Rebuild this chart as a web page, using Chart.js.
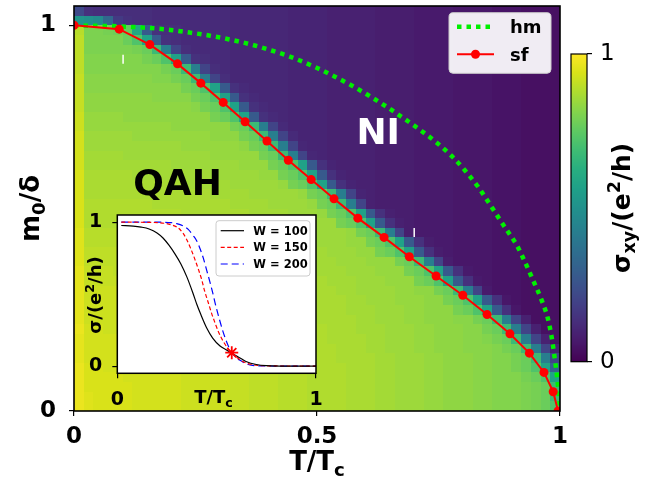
<!DOCTYPE html>
<html><head><meta charset="utf-8">
<style>
html,body{margin:0;padding:0;background:#fff;}
#wrap{position:relative;width:645px;height:479px;overflow:hidden;}
canvas{position:absolute;left:0;top:0;}
</style>
<script src="https://cdn.jsdelivr.net/npm/chart.js@4.4.1/dist/chart.umd.min.js"></script>
</head><body>
<div id="wrap">
<canvas id="main" width="645" height="479"></canvas>
<canvas id="cbar" width="645" height="479"></canvas>
<canvas id="inset" width="645" height="479"></canvas>
</div>
<script>
// ---------------- data ----------------
const tEdges = [0,0.02,0.04,0.06,0.08,0.10,0.12,0.14,0.16,0.18,0.20,0.22,0.24,0.26,0.28,0.30,0.32,0.34,0.36,0.38,0.40,0.42,0.44,0.46,0.48,0.50,0.52,0.54,0.56,0.58,0.60,0.62,0.64,0.66,0.68,0.70,0.72,0.74,0.76,0.78,0.80,0.82,0.84,0.86,0.88,0.90,0.92,0.94,0.96,0.98,1.00];
const m0Edges = [0,0.025,0.05,0.075,0.1,0.125,0.15,0.175,0.2,0.225,0.25,0.275,0.3,0.325,0.35,0.375,0.4,0.425,0.45,0.475,0.5,0.525,0.55,0.575,0.6,0.625,0.65,0.675,0.7,0.725,0.75,0.775,0.8,0.825,0.85,0.875,0.9,0.925,0.95,0.975,1.0,1.025,1.05];
// sigma_xy in percent of e^2/h, row 0 = bottom (m0 0..0.025)
const sigmaRows = [
[97,95,94,94,94,94,93,93,93,93,93,92,92,92,92,92,91,91,90,90,90,89,89,89,88,88,88,88,87,87,87,86,86,85,85,85,84,84,83,83,83,82,82,81,81,81,80,79,77,72],
[97,95,94,94,94,94,93,93,93,93,93,92,92,92,92,92,91,91,90,90,90,89,89,89,88,88,88,88,87,87,87,86,86,85,85,85,84,84,83,83,83,82,82,81,81,81,80,79,77,68],
[97,94,94,94,94,94,93,93,93,93,93,92,92,92,92,92,91,91,90,90,90,89,89,89,88,88,88,88,87,87,87,86,86,85,85,85,84,84,83,83,83,82,82,81,81,81,80,79,77,68],
[97,94,94,94,94,93,93,93,93,93,93,92,92,92,92,92,91,91,90,90,90,89,89,89,88,88,88,88,87,87,87,86,86,85,85,85,84,84,83,83,83,82,82,81,81,81,79,77,72,57],
[97,94,94,93,93,93,93,93,93,93,92,92,92,92,92,91,91,91,90,90,90,89,89,88,88,88,88,88,87,87,87,86,86,85,85,85,84,84,83,83,83,82,82,81,81,79,77,72,57,30],
[96,93,93,93,93,93,93,93,93,92,92,92,92,92,92,91,91,90,90,90,89,89,89,88,88,88,88,87,87,87,87,86,86,85,85,85,84,84,83,83,83,82,82,81,81,79,77,68,42,20],
[96,93,93,93,93,93,93,93,92,92,92,92,92,92,91,91,91,90,90,90,89,89,88,88,88,88,88,87,87,87,86,86,85,85,85,84,84,83,83,83,82,82,82,81,79,77,68,42,20,9],
[96,93,93,93,93,93,92,92,92,92,92,92,92,91,91,91,90,90,90,89,89,89,88,88,88,88,87,87,87,87,86,86,85,85,85,84,84,83,83,83,82,82,81,79,77,68,42,20,9,4],
[97,93,93,92,92,92,92,92,92,92,92,92,91,91,91,90,90,90,89,89,89,88,88,88,88,88,87,87,87,86,86,86,85,85,85,84,84,83,83,83,82,82,79,77,68,42,20,9,4,4],
[96,92,92,92,92,92,92,92,92,92,92,91,91,91,90,90,90,90,89,89,89,88,88,88,88,87,87,87,87,86,86,85,85,85,84,84,83,83,83,82,82,79,77,68,42,20,9,4,4,4],
[96,92,92,92,92,92,92,92,92,92,91,91,91,90,90,90,90,89,89,89,88,88,88,88,88,87,87,87,86,86,86,85,85,85,84,84,83,83,83,79,77,72,57,28,14,6,4,4,4,4],
[96,92,92,92,92,92,92,92,91,91,91,91,90,90,90,90,89,89,89,88,88,88,88,88,87,87,87,87,86,86,85,85,85,84,84,84,83,83,79,77,72,57,28,14,6,5,4,4,4,4],
[96,92,92,92,92,91,91,91,91,91,90,90,90,90,89,89,89,89,88,88,88,88,88,87,87,87,87,86,86,85,85,85,85,84,84,83,83,79,77,68,42,20,7,5,5,5,4,4,4,4],
[96,91,91,91,91,91,91,91,90,90,90,90,90,89,89,89,89,88,88,88,88,88,87,87,87,87,86,86,86,85,85,85,84,84,84,79,77,72,57,28,14,7,6,5,5,5,4,4,4,4],
[96,91,91,91,90,90,90,90,90,90,90,90,89,89,89,89,88,88,88,88,88,87,87,87,87,86,86,86,85,85,85,84,84,84,79,77,72,57,28,14,7,6,6,5,5,5,4,4,4,4],
[95,90,90,90,90,90,90,90,90,89,89,89,89,89,88,88,88,88,88,88,87,87,87,87,86,86,86,85,85,85,84,84,84,79,77,68,42,20,8,6,6,6,6,5,5,5,4,4,4,4],
[95,90,90,90,90,90,89,89,89,89,89,89,88,88,88,88,88,88,88,87,87,87,87,86,86,86,85,85,85,84,84,79,77,72,57,28,14,8,7,6,6,6,6,5,5,5,4,4,4,4],
[95,89,89,89,89,89,89,89,89,89,88,88,88,88,88,88,88,87,87,87,87,87,86,86,86,85,85,85,84,84,79,77,72,57,28,14,8,7,7,6,6,6,6,5,5,5,4,4,4,4],
[95,89,89,89,89,89,88,88,88,88,88,88,88,88,88,87,87,87,87,87,87,86,86,86,85,85,85,85,84,79,77,68,42,20,8,7,7,7,7,6,6,6,6,5,5,5,4,4,4,4],
[94,88,88,88,88,88,88,88,88,88,88,88,88,87,87,87,87,87,87,87,86,86,86,85,85,85,85,79,77,72,57,28,14,9,8,7,7,7,7,6,6,6,6,5,5,5,4,4,4,4],
[94,88,88,88,88,88,88,88,88,88,88,87,87,87,87,87,87,87,86,86,86,86,85,85,85,84,79,77,72,57,28,14,9,8,8,7,7,7,7,6,6,6,6,5,5,5,4,4,4,4],
[94,88,88,88,88,88,88,88,87,87,87,87,87,87,87,87,86,86,86,86,85,85,85,85,84,79,77,68,42,20,9,8,8,8,8,7,7,7,7,6,6,6,6,5,5,5,4,4,4,4],
[94,87,87,87,87,87,87,87,87,87,87,87,87,87,86,86,86,86,85,85,85,85,85,84,79,77,68,42,20,10,9,8,8,8,8,7,7,7,7,6,6,6,6,5,5,5,4,4,4,4],
[94,87,87,87,87,87,87,87,87,87,87,86,86,86,86,86,85,85,85,85,85,84,79,77,72,57,28,14,10,9,9,8,8,8,8,7,7,7,7,6,6,6,6,5,5,5,4,4,4,4],
[94,87,87,87,87,87,86,86,86,86,86,86,86,86,85,85,85,85,85,84,84,79,77,72,57,28,14,10,9,9,9,8,8,8,8,7,7,7,7,6,6,6,6,5,5,5,4,4,4,4],
[93,86,86,86,86,86,86,86,86,86,85,85,85,85,85,85,85,84,84,84,79,77,72,57,28,14,10,9,9,9,9,8,8,8,8,7,7,7,7,6,6,6,6,5,5,5,4,4,4,4],
[93,86,86,86,86,85,85,85,85,85,85,85,85,85,84,84,84,84,84,79,77,68,42,20,11,10,9,9,9,9,9,8,8,8,8,7,7,7,7,6,6,6,6,5,5,5,4,4,4,4],
[93,85,85,85,85,85,85,85,85,85,85,84,84,84,84,84,84,83,79,77,68,42,20,11,10,10,9,9,9,9,9,8,8,8,8,7,7,7,7,6,6,6,6,5,5,5,4,4,4,4],
[93,85,85,85,85,85,84,84,84,84,84,84,84,84,83,83,83,79,77,68,42,20,12,10,10,10,9,9,9,9,9,8,8,8,8,7,7,7,7,6,6,6,6,5,5,5,4,4,4,4],
[92,84,84,84,84,84,84,84,84,84,83,83,83,83,83,83,79,77,68,42,20,12,10,10,10,10,9,9,9,9,9,8,8,8,8,7,7,7,7,6,6,6,6,5,5,5,4,4,4,4],
[92,84,84,84,84,83,83,83,83,83,83,83,83,83,79,77,72,57,28,14,12,11,10,10,10,10,9,9,9,9,9,8,8,8,8,7,7,7,7,6,6,6,6,5,5,5,4,4,4,4],
[91,83,83,83,83,83,83,83,83,83,83,83,82,79,77,72,57,28,14,12,11,11,10,10,10,10,9,9,9,9,9,8,8,8,8,7,7,7,7,6,6,6,6,5,5,5,4,4,4,4],
[91,83,83,83,83,83,83,83,82,82,82,82,79,77,72,57,28,14,12,11,11,11,10,10,10,10,9,9,9,9,9,8,8,8,8,7,7,7,7,6,6,6,6,5,5,5,4,4,4,4],
[91,82,82,82,82,82,82,82,82,82,82,79,77,72,57,28,14,12,11,11,11,11,10,10,10,10,9,9,9,9,9,8,8,8,8,7,7,7,7,6,6,6,6,5,5,5,4,4,4,4],
[91,82,82,82,82,82,82,82,81,81,79,77,68,42,20,13,11,11,11,11,11,11,10,10,10,10,9,9,9,9,9,8,8,8,8,7,7,7,7,6,6,6,6,5,5,5,4,4,4,4],
[90,81,81,81,81,81,81,81,81,79,77,68,42,20,13,12,11,11,11,11,11,11,10,10,10,10,9,9,9,9,9,8,8,8,8,7,7,7,7,6,6,6,6,5,5,5,4,4,4,4],
[90,81,81,81,81,81,81,79,77,72,57,28,14,13,12,12,11,11,11,11,11,11,10,10,10,10,9,9,9,9,9,8,8,8,8,7,7,7,7,6,6,6,6,5,5,5,4,4,4,4],
[90,80,80,80,80,80,79,77,68,42,20,13,12,12,12,12,11,11,11,11,11,11,10,10,10,10,9,9,9,9,9,8,8,8,8,7,7,7,7,6,6,6,6,5,5,5,4,4,4,4],
[90,80,80,80,80,77,72,57,28,14,13,12,12,12,12,12,11,11,11,11,11,11,10,10,10,10,9,9,9,9,9,8,8,8,8,7,7,7,7,6,6,6,6,5,5,5,4,4,4,4],
[89,80,80,79,78,76,60,28,14,13,13,12,12,12,12,12,11,11,11,11,11,11,10,10,10,10,9,9,9,9,9,8,8,8,8,7,7,7,7,6,6,6,6,5,5,5,4,4,4,4],
[52,50,47,33,17,14,13,13,12,12,12,12,12,12,12,12,11,11,11,11,11,11,10,10,10,10,9,9,9,9,9,8,8,8,8,7,7,7,7,6,6,6,6,5,5,5,4,4,4,4],
[22,14,13,13,13,13,13,13,12,12,12,12,12,12,12,12,11,11,11,11,11,11,10,10,10,10,9,9,9,9,9,8,8,8,8,7,7,7,7,6,6,6,6,5,5,5,4,4,4,4]
];
const hmT  = [0.000,0.033,0.074,0.115,0.156,0.198,0.239,0.280,0.321,0.362,0.403,0.444,0.499,0.533,0.574,0.609,0.643,0.677,0.712,0.747,0.778,0.805,0.831,0.852,0.870,0.890,0.911,0.928,0.945,0.962,0.975,0.983,0.989,0.994,0.998,1.000];
const hmM0 = [1.000,0.999,0.998,0.996,0.993,0.988,0.981,0.973,0.963,0.951,0.936,0.919,0.890,0.869,0.842,0.816,0.789,0.760,0.729,0.695,0.660,0.623,0.582,0.543,0.508,0.470,0.430,0.386,0.338,0.288,0.240,0.190,0.138,0.088,0.035,0.000];
const sfT  = [0.000,0.093,0.156,0.213,0.261,0.307,0.352,0.397,0.441,0.488,0.535,0.584,0.638,0.690,0.745,0.800,0.850,0.897,0.937,0.967,0.986,0.996];
const sfM0 = [1.00,0.99,0.95,0.90,0.85,0.80,0.75,0.70,0.65,0.60,0.55,0.50,0.45,0.40,0.35,0.30,0.25,0.20,0.15,0.10,0.05,0.00];
const markT  = [0.101,0.700];
const markM0 = [0.912,0.463];
const xTickVals = [0,0.5,1];
const yTickVals = [0,1];
const cbTickVals = [0,1];
const insetTickVals = [0,1];
const w100T = [0.02,0.08,0.12,0.16,0.20,0.23,0.26,0.29,0.32,0.35,0.38,0.40,0.42,0.45,0.48,0.517,0.55,0.576,0.62,0.651,0.70,0.75,0.85,1.00];
const w100S = [0.977,0.973,0.966,0.953,0.925,0.890,0.840,0.780,0.710,0.620,0.510,0.430,0.360,0.265,0.195,0.140,0.112,0.090,0.055,0.030,0.011,0.003,0.000,0.000];
const w150T = [0.02,0.15,0.248,0.28,0.307,0.33,0.349,0.37,0.391,0.41,0.425,0.44,0.458,0.475,0.492,0.51,0.534,0.555,0.576,0.60,0.634,0.67,0.71,0.80,1.00];
const w150S = [1.000,0.999,0.990,0.978,0.960,0.925,0.880,0.815,0.740,0.665,0.600,0.520,0.440,0.365,0.300,0.235,0.170,0.125,0.093,0.062,0.030,0.013,0.005,0.001,0.000];
const w200T = [0.02,0.20,0.27,0.299,0.33,0.357,0.38,0.40,0.418,0.433,0.45,0.467,0.48,0.492,0.505,0.517,0.532,0.547,0.562,0.576,0.60,0.618,0.65,0.68,0.75,1.00];
const w200S = [1.000,1.000,0.997,0.990,0.975,0.950,0.910,0.870,0.810,0.750,0.665,0.580,0.510,0.440,0.370,0.310,0.240,0.180,0.130,0.093,0.058,0.040,0.016,0.005,0.001,0.000];
const starT = [0.576];
const starS = [0.093];
const qahPos = [0.213, 0.593];
const niPos  = [0.626, 0.725];

// ---------------- helpers ----------------
const FF = '"DejaVu Sans", sans-serif';
Chart.defaults.font.family = FF;
Chart.defaults.color = '#000';
const viridis = [[68,1,84],[72,24,106],[71,44,122],[66,64,134],[59,82,139],[51,99,141],[44,114,142],[38,130,142],[33,145,140],[31,160,136],[40,174,128],[63,188,115],[94,201,98],[132,212,75],[173,220,48],[216,226,25],[253,231,37]];
function cmap(v){
  v = Math.max(0, Math.min(1, v));
  const p = v*(viridis.length-1);
  const i = Math.min(Math.floor(p), viridis.length-2);
  const f = p - i, a = viridis[i], b = viridis[i+1];
  return 'rgb(' + Math.round(a[0]+(b[0]-a[0])*f) + ',' + Math.round(a[1]+(b[1]-a[1])*f) + ',' + Math.round(a[2]+(b[2]-a[2])*f) + ')';
}
function drawRich(ctx, parts, cx, cy, size, color, rot, weight, align){
  weight = weight || 'bold';
  ctx.save();
  ctx.translate(cx, cy);
  if (rot) ctx.rotate(rot);
  ctx.fillStyle = color;
  ctx.textBaseline = 'alphabetic';
  ctx.textAlign = 'left';
  let w = 0;
  for (const p of parts){ const s = (p.sub||p.sup) ? size*0.7 : size; ctx.font = weight + ' ' + s + 'px ' + FF; w += ctx.measureText(p.t).width; }
  let xx = (align === 'left') ? 0 : -w/2;
  const base = size*0.36;
  for (const p of parts){
    const s = (p.sub||p.sup) ? size*0.7 : size;
    ctx.font = weight + ' ' + s + 'px ' + FF;
    let dy = 0; if (p.sub) dy = size*0.2; if (p.sup) dy = -size*0.42;
    ctx.fillText(p.t, xx, base+dy);
    xx += ctx.measureText(p.t).width;
  }
  ctx.restore();
}
function roundRect(ctx, x, y, w, h, r){
  ctx.beginPath(); ctx.moveTo(x+r,y); ctx.lineTo(x+w-r,y); ctx.arcTo(x+w,y,x+w,y+r,r);
  ctx.lineTo(x+w,y+h-r); ctx.arcTo(x+w,y+h,x+w-r,y+h,r); ctx.lineTo(x+r,y+h);
  ctx.arcTo(x,y+h,x,y+h-r,r); ctx.lineTo(x,y+r); ctx.arcTo(x,y,x+r,y,r); ctx.closePath();
}
const pts = (xs, ys) => xs.map((v,k) => ({x:v, y:ys[k]}));
const fixTicks = vals => (s => { s.ticks = vals.map(v => ({value:v})); });
const fitY = w => (s => { s.width = w; s.paddingTop = 0; s.paddingBottom = 0; });
const fitX = h => (s => { s.height = h; s.paddingLeft = 0; s.paddingRight = 0; });

// ---------------- main chart ----------------
const heatmapPlugin = {
  id: 'heatmap',
  beforeDatasetsDraw(chart){
    const {ctx, chartArea:a, scales:{x, y}} = chart;
    ctx.save();
    ctx.beginPath(); ctx.rect(a.left, a.top, a.right-a.left, a.bottom-a.top); ctx.clip();
    for (let j = 0; j < sigmaRows.length; j++){
      const yb = Math.round(y.getPixelForValue(m0Edges[j]));
      const yt = Math.round(y.getPixelForValue(m0Edges[j+1]));
      const row = sigmaRows[j];
      for (let i = 0; i < row.length; i++){
        const xl = Math.round(x.getPixelForValue(tEdges[i]));
        const xr = Math.round(x.getPixelForValue(tEdges[i+1]));
        ctx.fillStyle = cmap(row[i]/100);
        ctx.fillRect(xl, yt, xr-xl, yb-yt);
      }
    }
    ctx.restore();
  }
};
const mainDecor = {
  id: 'mainDecor',
  afterDatasetsDraw(chart){
    const {ctx, chartArea:a, scales:{x, y}} = chart;
    drawRich(ctx, [{t:'QAH'}], x.getPixelForValue(qahPos[0]), y.getPixelForValue(qahPos[1]), 36, '#000');
    drawRich(ctx, [{t:'NI'}], x.getPixelForValue(niPos[0]), y.getPixelForValue(niPos[1]), 36, '#fff');
    // legend
    ctx.save();
    roundRect(ctx, 449, 12.7, 102, 60.6, 4);
    ctx.fillStyle = 'rgba(255,255,255,0.92)'; ctx.fill();
    ctx.strokeStyle = '#cccccc'; ctx.lineWidth = 1; ctx.stroke();
    ctx.beginPath(); ctx.setLineDash([4.5,5]); ctx.strokeStyle = '#00f000'; ctx.lineWidth = 4.5;
    ctx.moveTo(457, 26.7); ctx.lineTo(494, 26.7); ctx.stroke();
    ctx.setLineDash([]);
    ctx.beginPath(); ctx.strokeStyle = '#ff0000'; ctx.lineWidth = 2;
    ctx.moveTo(457, 54.3); ctx.lineTo(494, 54.3); ctx.stroke();
    ctx.beginPath(); ctx.fillStyle = '#ff0000'; ctx.arc(475.5, 54.3, 4.5, 0, Math.PI*2); ctx.fill();
    ctx.restore();
    drawRich(ctx, [{t:'hm'}], 510, 26.7, 18, '#000', 0, 'bold', 'left');
    drawRich(ctx, [{t:'sf'}], 510, 54.3, 18, '#000', 0, 'bold', 'left');
    // frame
    ctx.save(); ctx.strokeStyle = '#000'; ctx.lineWidth = 1.6;
    ctx.strokeRect(a.left, a.top, a.right-a.left, a.bottom-a.top); ctx.restore();
    // axis titles
    drawRich(ctx, [{t:'T/T'},{t:'c', sub:true}], (a.left+a.right)/2, 461, 26, '#000');
    drawRich(ctx, [{t:'m'},{t:'0', sub:true},{t:'/δ'}], 30, (a.top+a.bottom)/2, 26, '#000', -Math.PI/2);
  }
};
new Chart(document.getElementById('main'), {
  type: 'scatter',
  data: { datasets: [
    { label:'sf', data: pts(sfT, sfM0), showLine:true, borderColor:'#ff0000', borderWidth:2,
      pointRadius:4.5, pointBackgroundColor:'#ff0000', pointBorderColor:'#ff0000', pointBorderWidth:0, clip:0, order:0 },
    { label:'hm', data: pts(hmT, hmM0), showLine:true, borderColor:'#00f000', borderWidth:4.5, borderDash:[4.5,5],
      cubicInterpolationMode:'monotone', pointRadius:0, clip:0, order:1 },
    { label:'marks', data: pts(markT, markM0), showLine:false, pointStyle:'line', pointRotation:90, pointRadius:4.5,
      pointBorderColor:'#ffffff', pointBorderWidth:1.5, order:2 }
  ]},
  options: {
    responsive:false, animation:false, events:[],
    layout:{ padding:{ left:0, top:4, right:85, bottom:0 } },
    plugins:{ legend:{display:false}, tooltip:{enabled:false} },
    scales:{
      x:{ type:'linear', min:0, max:1, afterFit: fitX(68), afterBuildTicks: fixTicks(xTickVals),
          ticks:{ font:{size:23, weight:'bold'}, padding:7, color:'#000', maxRotation:0, autoSkip:false, callback: v => String(v) },
          grid:{ drawOnChartArea:false, drawTicks:true, tickLength:5, color:'#000', lineWidth:1.2 }, border:{display:false} },
      y:{ type:'linear', min:0, max:1.05, afterFit: fitY(74), afterBuildTicks: fixTicks(yTickVals),
          ticks:{ font:{size:23, weight:'bold'}, padding:13, color:'#000', autoSkip:false, callback: v => String(v) },
          grid:{ drawOnChartArea:false, drawTicks:true, tickLength:5, color:'#000', lineWidth:1.2 }, border:{display:false} }
    }
  },
  plugins:[heatmapPlugin, mainDecor]
});

// ---------------- colorbar ----------------
const cbarPlugin = {
  id:'cbarGrad',
  beforeDatasetsDraw(chart){
    const {ctx, chartArea:a, scales:{y}} = chart;
    for (let py = Math.floor(a.top); py < Math.ceil(a.bottom); py++){
      ctx.fillStyle = cmap(y.getValueForPixel(py+0.5));
      ctx.fillRect(a.left, py, a.right-a.left, 1);
    }
    ctx.save(); ctx.strokeStyle='#000'; ctx.lineWidth=1.2;
    ctx.strokeRect(a.left, a.top, a.right-a.left, a.bottom-a.top); ctx.restore();
    drawRich(ctx, [{t:'σ'},{t:'xy', sub:true},{t:'/(e'},{t:'2', sup:true},{t:'/h)'}], a.right+34, (a.top+a.bottom)/2, 25, '#000', -Math.PI/2);
  }
};
new Chart(document.getElementById('cbar'), {
  type:'scatter',
  data:{ datasets:[] },
  options:{
    responsive:false, animation:false, events:[],
    layout:{ padding:{ left:571, top:54, right:18, bottom:117.3 } },
    plugins:{ legend:{display:false}, tooltip:{enabled:false} },
    scales:{
      x:{ display:false, min:0, max:1 },
      y:{ position:'right', min:0, max:1, afterFit: fitY(40), afterBuildTicks: fixTicks(cbTickVals),
          ticks:{ font:{size:23, weight:'normal'}, padding:8, color:'#000', callback: v => String(v) },
          grid:{ drawOnChartArea:false, drawTicks:true, tickLength:5, color:'#000', lineWidth:1.2 }, border:{display:false} }
    }
  },
  plugins:[cbarPlugin]
});

// ---------------- inset ----------------
const insetDecor = {
  id:'insetDecor',
  beforeDraw(chart){
    const {ctx, chartArea:a} = chart;
    ctx.save(); ctx.fillStyle='#fff'; ctx.fillRect(a.left, a.top, a.right-a.left, a.bottom-a.top); ctx.restore();
  },
  afterDraw(chart){
    const {ctx, chartArea:a} = chart;
    ctx.save();
    roundRect(ctx, 216, 220.7, 94, 55.3, 3);
    ctx.fillStyle='rgba(255,255,255,0.92)'; ctx.fill(); ctx.strokeStyle='#cccccc'; ctx.lineWidth=1; ctx.stroke();
    const rows = [[230.7,'#000000',[]],[247.3,'#ff0000',[4,2.5]],[264,'#0000ff',[7,4]]];
    for (const r of rows){
      ctx.beginPath(); ctx.setLineDash(r[2]); ctx.strokeStyle=r[1]; ctx.lineWidth=1.2;
      ctx.moveTo(220.7, r[0]); ctx.lineTo(244, r[0]); ctx.stroke();
    }
    ctx.setLineDash([]);
    ctx.strokeStyle='#000'; ctx.lineWidth=1.5;
    ctx.strokeRect(a.left, a.top, a.right-a.left, a.bottom-a.top);
    ctx.restore();
    drawRich(ctx, [{t:'W = 100'}], 253.3, 230.7, 11.5, '#000', 0, 'bold', 'left');
    drawRich(ctx, [{t:'W = 150'}], 253.3, 247.3, 11.5, '#000', 0, 'bold', 'left');
    drawRich(ctx, [{t:'W = 200'}], 253.3, 264, 11.5, '#000', 0, 'bold', 'left');
    drawRich(ctx, [{t:'T/T'},{t:'c', sub:true}], 213.5, 397, 18, '#000');
    drawRich(ctx, [{t:'σ/(e'},{t:'2', sup:true},{t:'/h)'}], 95, 295, 18, '#000', -Math.PI/2);
  }
};
new Chart(document.getElementById('inset'), {
  type:'scatter',
  data:{ datasets:[
    { label:'W = 100', data: pts(w100T, w100S), showLine:true, borderColor:'#000000', borderWidth:1.2, pointRadius:0, cubicInterpolationMode:'monotone' },
    { label:'W = 150', data: pts(w150T, w150S), showLine:true, borderColor:'#ff0000', borderWidth:1.2, borderDash:[4,2.5], pointRadius:0, cubicInterpolationMode:'monotone' },
    { label:'W = 200', data: pts(w200T, w200S), showLine:true, borderColor:'#0000ff', borderWidth:1.2, borderDash:[7,4], pointRadius:0, cubicInterpolationMode:'monotone' },
    { label:'star', data: pts(starT, starS), showLine:false, pointStyle:'star', pointRadius:6.5, pointBorderColor:'#ff0000', pointBorderWidth:1.8, order:-1 }
  ]},
  options:{
    responsive:false, animation:false, events:[],
    layout:{ padding:{ left:77.3, top:215, right:329, bottom:65.7 } },
    plugins:{ legend:{display:false}, tooltip:{enabled:false} },
    scales:{
      x:{ type:'linear', min:0, max:1, afterFit: fitX(40), afterBuildTicks: fixTicks(insetTickVals),
          ticks:{ font:{size:19, weight:'bold'}, padding:10, color:'#000', maxRotation:0, autoSkip:false, callback: v => String(v) },
          grid:{ drawOnChartArea:false, drawTicks:true, tickLength:5, color:'#000', lineWidth:1.2 }, border:{display:false} },
      y:{ type:'linear', min:-0.05, max:1.05, afterFit: fitY(40), afterBuildTicks: fixTicks(insetTickVals),
          ticks:{ font:{size:19, weight:'bold'}, padding:10, color:'#000', autoSkip:false, callback: v => String(v) },
          grid:{ drawOnChartArea:false, drawTicks:true, tickLength:5, color:'#000', lineWidth:1.2 }, border:{display:false} }
    }
  },
  plugins:[insetDecor]
});
</script>
</body></html>
